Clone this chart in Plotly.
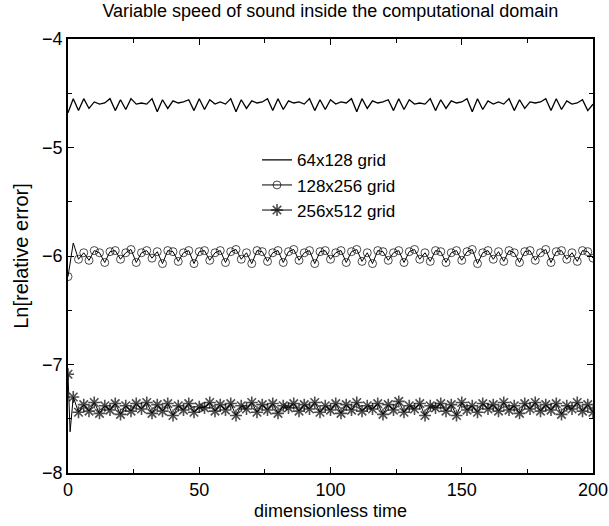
import plotly.graph_objects as go

# sample times (dimensionless)
TIME = list(range(0, 201, 2))
TIME_START_256 = [0.0, 0.8]

grid_64x128 = [
    -4.68, -4.55, -4.66, -4.55, -4.64, -4.58, -4.60, -4.59, -4.55, -4.66,
    -4.56, -4.65, -4.55, -4.60, -4.59, -4.60, -4.55, -4.67, -4.56, -4.64,
    -4.57, -4.59, -4.58, -4.56, -4.66, -4.55, -4.65, -4.56, -4.60, -4.58,
    -4.60, -4.55, -4.67, -4.56, -4.64, -4.57, -4.59, -4.58, -4.55, -4.66,
    -4.55, -4.65, -4.57, -4.59, -4.58, -4.60, -4.55, -4.66, -4.56, -4.65,
    -4.56, -4.60, -4.58, -4.59, -4.55, -4.67, -4.55, -4.64, -4.57, -4.59,
    -4.58, -4.56, -4.66, -4.55, -4.65, -4.56, -4.60, -4.59, -4.60, -4.55,
    -4.66, -4.56, -4.64, -4.57, -4.59, -4.58, -4.55, -4.67, -4.55, -4.65,
    -4.57, -4.60, -4.58, -4.60, -4.55, -4.66, -4.56, -4.64, -4.58, -4.59,
    -4.58, -4.55, -4.66, -4.55, -4.65, -4.57, -4.60, -4.59, -4.56, -4.66,
    -4.60,
]

grid_128x256 = [
    -6.19, -5.88, -6.03, -5.97, -6.04, -5.95, -5.97, -6.06, -5.96, -5.95,
    -6.03, -5.97, -5.94, -6.06, -5.97, -5.95, -6.02, -5.96, -6.07, -5.95,
    -5.96, -6.05, -5.97, -5.95, -6.07, -5.96, -5.95, -6.04, -5.97, -5.95,
    -6.06, -5.96, -5.94, -6.03, -5.97, -6.07, -5.95, -5.96, -6.05, -5.97,
    -5.95, -6.06, -5.96, -5.94, -6.04, -5.97, -5.95, -6.07, -5.96, -5.95,
    -6.03, -5.97, -5.95, -6.06, -5.96, -5.94, -6.05, -5.97, -6.07, -5.95,
    -5.96, -6.04, -5.97, -5.95, -6.06, -5.96, -5.94, -6.03, -5.97, -6.05,
    -5.95, -5.96, -6.06, -5.97, -5.95, -6.04, -5.96, -5.94, -6.07, -5.97,
    -5.95, -6.03, -5.96, -6.05, -5.95, -5.97, -6.06, -5.96, -5.95, -6.04,
    -5.97, -5.94, -6.06, -5.96, -5.95, -6.03, -5.97, -6.05, -5.95, -5.96,
    -6.02,
]

grid_256x512 = [
    -7.09, -7.62,
    -7.30, -7.44, -7.37, -7.43, -7.35, -7.45, -7.38, -7.42, -7.36, -7.46,
    -7.38, -7.43, -7.36, -7.41, -7.35, -7.45, -7.37, -7.43, -7.36, -7.47,
    -7.38, -7.42, -7.36, -7.44, -7.39, -7.40, -7.35, -7.43, -7.37, -7.42,
    -7.36, -7.47, -7.38, -7.41, -7.35, -7.44, -7.37, -7.42, -7.36, -7.45,
    -7.38, -7.40, -7.36, -7.43, -7.37, -7.41, -7.35, -7.44, -7.38, -7.42,
    -7.36, -7.45, -7.37, -7.42, -7.35, -7.43, -7.38, -7.41, -7.36, -7.46,
    -7.37, -7.42, -7.34, -7.44, -7.38, -7.41, -7.36, -7.47, -7.38, -7.40,
    -7.36, -7.43, -7.37, -7.47, -7.35, -7.42, -7.38, -7.44, -7.36, -7.41,
    -7.37, -7.43, -7.35, -7.42, -7.38, -7.45, -7.36, -7.41, -7.35, -7.43,
    -7.37, -7.42, -7.36, -7.46, -7.38, -7.41, -7.35, -7.43, -7.37, -7.44,
]

SERIES_NAMES = ["64x128 grid", "128x256 grid", "256x512 grid"]

time_256 = TIME_START_256 + TIME[1:]

# transient points (index 1) are drawn as line only, no symbol
circle_sizes = [8] * len(grid_128x256)
circle_sizes[1] = 0
star_sizes = [10] * len(grid_256x512)
star_sizes[1] = 0

FONT = "Liberation Sans, Arial, Helvetica, sans-serif"

fig = go.Figure()
fig.add_trace(go.Scatter(
    x=TIME, y=grid_64x128, name=SERIES_NAMES[0], mode="lines",
    line=dict(color="black", width=1.3),
))
fig.add_trace(go.Scatter(
    x=TIME, y=grid_128x256, name=SERIES_NAMES[1], mode="lines+markers",
    line=dict(color="black", width=1),
    marker=dict(symbol="circle-open", size=circle_sizes, color="black",
                line=dict(width=1, color="black")),
))
fig.add_trace(go.Scatter(
    x=time_256, y=grid_256x512, name=SERIES_NAMES[2], mode="lines+markers",
    line=dict(color="black", width=1),
    marker=dict(symbol="asterisk-open", size=star_sizes, color="black",
                line=dict(width=1.6, color="black")),
))

axis_common = dict(
    showline=True, linecolor="black", linewidth=1.5, mirror="ticks",
    ticks="inside", ticklen=6, tickwidth=1.2, tickcolor="black",
    showgrid=False, zeroline=False, automargin=False,
    tickfont=dict(family=FONT, size=18, color="black"),
)

fig.update_xaxes(
    range=[0, 200], dtick=50, tick0=0,
    minor=dict(ticks="inside", ticklen=4, dtick=25, tickcolor="black", tickwidth=1),
    title=dict(text="dimensionless time", font=dict(family=FONT, size=18, color="black"),
               standoff=5),
    **axis_common,
)
fig.update_yaxes(
    range=[-8, -4], dtick=1, tick0=-8,
    minor=dict(ticks="inside", ticklen=4, dtick=0.5, tickcolor="black", tickwidth=1),
    title=dict(text="Ln[relative error]", font=dict(family=FONT, size=20, color="black"),
               standoff=8),
    **axis_common,
)

fig.update_layout(
    width=609, height=526,
    margin=dict(l=68, r=16, t=39, b=53),
    paper_bgcolor="white", plot_bgcolor="white",
    font=dict(family=FONT, color="black"),
    title=dict(text="Variable speed of sound inside the computational domain",
               font=dict(family=FONT, size=18, color="black"),
               x=0.5425, xanchor="center", y=0.992, yanchor="top"),
    legend=dict(x=0.36, y=0.762, xanchor="left", yanchor="top",
                bgcolor="rgba(0,0,0,0)", borderwidth=0,
                font=dict(family=FONT, size=17, color="black"),
                itemwidth=30, tracegroupgap=0),
    showlegend=True,
)

fig.write_html("out.html")
